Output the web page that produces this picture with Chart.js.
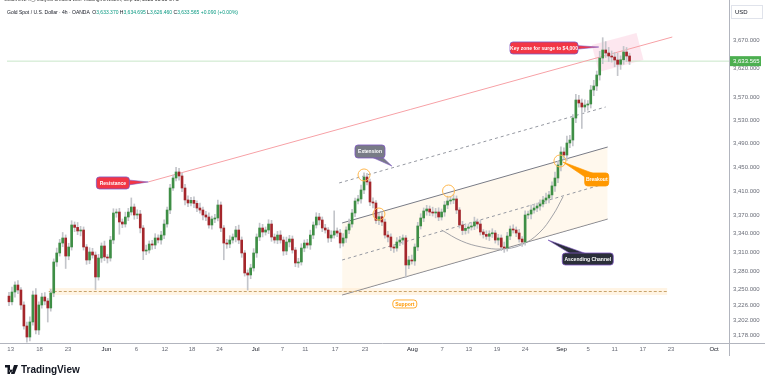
<!DOCTYPE html>
<html>
<head>
<meta charset="utf-8">
<script src="https://cdn.jsdelivr.net/npm/chart.js@4.4.1/dist/chart.umd.min.js"></script>
<style>
  body { margin: 0; background: #fff; overflow: hidden; }
  #wrap { position: relative; width: 768px; height: 376px; font-family: "Liberation Sans", Arial, sans-serif; }
  canvas { position: absolute; left: 0; top: 0; }
  .small { position: absolute; white-space: nowrap; transform-origin: 0 0; transform: scale(0.5); font-size: 10px; }
  #credit { left: 4px; top: -4px; color: #333; }
  #legend { left: 7px; top: 9px; color: #131722; }
  #legend .v { color: #089981; }
  #logo { position: absolute; left: 5px; top: 363px; height: 12px; display: flex; align-items: center; gap: 3px;
          font: bold 10px "Liberation Sans", Arial, sans-serif; color: #131722; }
</style>
</head>
<body>
<div id="wrap">
  <canvas id="chart" width="768" height="376"></canvas>
  <div id="credit" class="small">GoldViewFX_Analysis created with TradingView.com, Sep 15, 2025 01:31 UTC</div>
  <div id="legend" class="small">Gold Spot / U.S. Dollar · 4h · OANDA &nbsp;O<span class="v">3,633.370</span> H<span class="v">3,634.695</span> L<span class="v">3,626.460</span> C<span class="v">3,633.565</span> <span class="v">+0.090 (+0.00%)</span></div>
  <div id="logo">
    <svg width="13" height="9" viewBox="0 0 13 9"><path d="M0 0h5v9H2.5V2.5H0z M6 4.5a1.5 1.5 0 1 0 0.01 0z M9 0h4l-3.5 9H6z" fill="#131722"/></svg>
    <span>TradingView</span>
  </div>
</div>
<script>
// 4h candles, one slot each (close prices)
const closes = [
  3231, 3246.5, 3257.6, 3249.7, 3226, 3193.1, 3176, 3199.4, 3241.8, 3186.9,
  3226, 3238.6, 3232.3, 3221.3, 3245, 3294.4, 3308.9, 3325, 3333.2, 3304,
  3318.6, 3354.4, 3350.5, 3344.6, 3346.2, 3318.6, 3297.6, 3310.5, 3305.6, 3270.4,
  3300.8, 3320.2, 3302.4, 3300.8, 3329.9, 3374.1, 3375.7, 3359.3, 3356, 3367.5,
  3375.7, 3384, 3370.8, 3372.4, 3349.5, 3312.1, 3313.7, 3323.4, 3321.8, 3333.2,
  3330, 3338, 3356, 3379, 3415.5, 3432.2, 3442.3, 3435.6, 3415.5, 3395.6,
  3390.6, 3395, 3390, 3382.3, 3379, 3370.8, 3367.5, 3354.4, 3364.2, 3365.9,
  3387.3, 3349.5, 3325, 3323.4, 3329.9, 3334.8, 3346.2, 3329.9, 3308.9, 3276.8,
  3273.6, 3284.8, 3308.9, 3334.8, 3349.5, 3342.9, 3346.2, 3356, 3334.8, 3329.9,
  3338, 3329.9, 3312.1, 3326.7, 3331.5, 3313.7, 3292.8, 3294.4, 3316.9, 3325,
  3321.8, 3338, 3354.4, 3367.5, 3362.6, 3349.5, 3346.2, 3333.2, 3338, 3344.6,
  3341.3, 3325, 3333.2, 3346.2, 3356, 3374.1, 3393.9, 3397.3, 3412.2, 3433.9,
  3425.6, 3392.3, 3390.6, 3362, 3368, 3359.3, 3338, 3334.8, 3318.6, 3316.9,
  3326.7, 3329.9, 3333.2, 3289.6, 3297.6, 3296, 3318.6, 3352.8, 3365.9, 3377.4,
  3380.7, 3375.7, 3374.1, 3375.7, 3367.5, 3375.7, 3387.3, 3393.9, 3395.6, 3397.3,
  3379, 3354.4, 3345.5, 3349, 3351.1, 3352.8, 3359.3, 3356, 3343, 3339,
  3336, 3340, 3341.3, 3329.9, 3333.2, 3318.6, 3316.9, 3336.4, 3347.8, 3346.2,
  3341.3, 3331.5, 3326.7, 3370.8, 3372.4, 3379, 3382.3, 3385.6, 3389, 3395.6,
  3398.9, 3404, 3419, 3432.2, 3454.1, 3476, 3470.9, 3491.3, 3496.4, 3534.1,
  3565.3, 3560.1, 3553.2, 3556.6, 3558.4, 3582.8, 3589.8, 3609.1, 3639.1, 3653.4,
  3648, 3642.7, 3640.9, 3635.6, 3628, 3636, 3649.8, 3642.7, 3633.565
];
const firstOpen = 3240;
// wick length above / below the body, in dollars
const wickHigh = [
  6,8,5,7,4,5,6,8,6,10, 5,6,7,4,6,5,8,6,9,5, 6,7,5,8,6,5,4,7,6,5, 6,5,8,4,6,7,5,6,5,8,
  6,15,5,7,6,4,8,5,6,7, 5,6,7,5,6,5,8,6,5,6, 7,5,6,4,8,5,6,7,5,6, 8,5,4,6,7,5,6,8,5,4,
  5,6,7,5,8,6,5,7,6,5, 6,7,5,8,6,5,4,6,7,5, 6,8,5,7,6,5,6,4,7,33, 5,6,7,5,8,6,5,6,8,7,
  6,5,7,4,6,8,5,6,5,4, 7,6,5,4,6,8,5,6,7,5, 6,5,8,6,7,5,6,8,5,7, 5,4,6,7,5,6,8,5,6,4,
  6,5,7,4,6,5,8,6,5,7, 5,6,4,7,5,8,6,5,7,6, 8,6,7,10,6,9,7,12,8,6, 10,8,7,9,6,8,10,7,12,22,
  15,10,9,8,12,7,10,8,5
];
const wickLow = [
  6,5,8,6,7,5,8,6,5,6, 7,5,6,22,5,6,7,5,6,20, 6,5,7,6,8,5,7,6,5,20, 5,7,6,8,5,6,7,20,6,5,
  6,5,7,6,8,14,6,5,7,6, 5,7,6,5,6,4,5,7,6,8, 6,5,7,6,5,8,6,5,7,6, 5,6,27,7,6,5,8,6,7,5,
  24,6,5,7,6,8,5,6,7,5, 6,5,7,6,8,5,6,7,5,6, 5,7,6,5,8,6,5,7,6,5, 6,8,5,7,6,5,6,5,7,6,
  5,6,8,5,7,6,5,8,6,7, 5,6,7,20,6,5,7,6,5,6, 7,6,5,8,6,5,7,6,5,6, 6,5,7,6,8,5,6,7,5,6,
  5,7,6,5,8,6,7,5,6,5, 6,5,7,5,6,8,5,6,7,5, 6,8,7,9,8,10,7,9,8,10, 8,7,37,8,9,7,10,8,9,10,
  8,10,9,12,20,9,8,10,6
];

const xTickIdx = [0.57, 10.23, 19.77, 32.67, 42.67, 52.23, 61.33, 70.57, 82.67, 91.67, 99.33, 109.33,
  119.33, 135.23, 145.23, 154.1, 163.57, 173, 185.23, 194.1, 203, 212.43, 221.9, 236.33];
const xTickLabels = ['13','18','23','Jun','6','12','18','24','Jul','7','11','17',
  '23','Aug','7','13','19','24','Sep','5','11','17','23','Oct'];
const monthNames = ['Jun','Jul','Aug','Sep','Oct'];
const yTicks = [3670, 3620, 3570, 3530, 3490, 3450, 3410, 3370, 3340, 3310, 3280, 3250, 3226, 3202, 3178];
const lastPrice = 3633.565;

// drawings (slot index, price)
const resistanceLine = [[46.67, 3425.6], [222.33, 3676.6]];
const supportLevel = 3247.3, supportBand = [3241.8, 3252.9], supportSpan = [13.33, 220.67];
const channelUpper = [[111.67, 3357.7], [200.67, 3484.5]];
const channelMid = [[111.67, 3297.6], [200.67, 3423.9]];
const channelLower = [[111.67, 3241.8], [200.67, 3364.2]];
const extensionLine = [[110.67, 3423.9], [200, 3553.2]];
const touchPoints = [[119, 3437.3], [124, 3372.4], [147.33, 3410.5], [184.67, 3460.8]];
const roundBottom = [[145, 3346.2], [151.67, 3328.3], [158.33, 3318.6], [165, 3315.3], [171.67, 3321.8],
  [177.67, 3341.3], [182.33, 3370.8], [185.67, 3400.6]];
const keyZone = [[197.67, 3614.4], [212.67, 3635.6], [210.33, 3683.8], [195.33, 3662.3], [197.67, 3614.4]];

const callouts = [
  { text: 'Resistance', at: [34.83, 3423.9], w: 33, h: 12, tip: [46.67, 3425.6], bg: '#f23645', fg: '#fff', bd: '#7e57c2' },
  { text: 'Extension', at: [121, 3476.9], w: 30, h: 13, tip: [128.33, 3452.3], bg: '#787b86', fg: '#fff', bd: '#7e57c2' },
  { text: 'Key zone for surge to $4,000', at: [179.33, 3657], w: 68, h: 12, tip: [197.67, 3658.7], bg: '#f23645', fg: '#fff', bd: '#7e57c2' },
  { text: 'Breakout', at: [197, 3429.7], w: 24, h: 13, tip: [185.67, 3459.1], bg: '#ff9800', fg: '#fff', bd: '#ff9800' },
  { text: 'Ascending Channel', at: [194, 3299.2], w: 51, h: 12, tip: [180.67, 3329.9], bg: '#2a2e39', fg: '#fff', bd: '#7e57c2' },
  { text: 'Support', at: [132.67, 3227.6], w: 24, h: 8, tip: null, bg: '#fff', fg: '#ff9800', bd: '#ff9800' }
];

const opens = [firstOpen, ...closes.slice(0, -1)];
const idx = closes.map((c, i) => i);
const pts = arr => arr.map(p => ({ x: p[0], y: p[1] }));

const calloutPlugin = {
  id: 'callouts',
  afterDatasetsDraw(chart) {
    const { ctx, scales: { x, y } } = chart;
    ctx.save();
    callouts.forEach(c => {
      const cx = x.getPixelForValue(c.at[0]), cy = y.getPixelForValue(c.at[1]);
      if (c.tip) {
        const tx = x.getPixelForValue(c.tip[0]), ty = y.getPixelForValue(c.tip[1]);
        const dx = tx - cx, dy = ty - cy, len = Math.hypot(dx, dy);
        const nx = -dy / len * 4.5, ny = dx / len * 4.5;
        ctx.beginPath();
        ctx.moveTo(cx + nx, cy + ny);
        ctx.lineTo(tx, ty);
        ctx.lineTo(cx - nx, cy - ny);
        ctx.closePath();
        ctx.fillStyle = c.bg; ctx.fill();
        ctx.strokeStyle = c.bd; ctx.lineWidth = 0.6; ctx.stroke();
      }
      ctx.beginPath();
      ctx.roundRect(cx - c.w / 2, cy - c.h / 2, c.w, c.h, 3);
      ctx.fillStyle = c.bg; ctx.fill();
      ctx.strokeStyle = c.bd; ctx.lineWidth = 0.8; ctx.stroke();
      ctx.fillStyle = c.fg;
      ctx.font = 'bold 5px "Liberation Sans", Arial, sans-serif';
      ctx.textAlign = 'center'; ctx.textBaseline = 'middle';
      ctx.fillText(c.text, cx, cy + 0.5);
    });
    ctx.restore();
  }
};

const framePlugin = {
  id: 'frame',
  afterDraw(chart) {
    const { ctx, chartArea: a, scales: { y } } = chart;
    ctx.save();
    ctx.strokeStyle = '#b2b5be'; ctx.lineWidth = 1;
    ctx.beginPath();
    ctx.moveTo(0, a.bottom + 0.5); ctx.lineTo(765, a.bottom + 0.5);
    ctx.moveTo(a.right + 0.5, 0); ctx.lineTo(a.right + 0.5, a.bottom + 13);
    ctx.stroke();
    // USD box
    ctx.strokeStyle = '#e0e3eb';
    ctx.strokeRect(731.5, 5.5, 31, 13);
    ctx.fillStyle = '#131722';
    ctx.font = '6px "Liberation Sans", Arial, sans-serif';
    ctx.textAlign = 'left'; ctx.textBaseline = 'middle';
    ctx.fillText('USD', 735, 12);
    // last price tag
    const py = y.getPixelForValue(lastPrice);
    ctx.fillStyle = '#4caf50';
    ctx.fillRect(730, py - 5, 31, 10);
    ctx.fillStyle = '#fff';
    ctx.fillText(lastPrice.toLocaleString('en-US', { minimumFractionDigits: 3 }), 733, py + 0.5);
    ctx.restore();
  }
};

new Chart(document.getElementById('chart'), {
  type: 'bar',
  data: {
    datasets: [
      { type: 'scatter', data: pts(touchPoints), pointRadius: 6, pointBackgroundColor: 'rgba(0,0,0,0)',
        pointBorderColor: '#ffb74d', pointBorderWidth: 1, order: 1 },
      { label: 'body', data: idx.map(i => ({ x: i, y: [opens[i], closes[i]] })),
        backgroundColor: idx.map(i => closes[i] >= opens[i] ? '#3e8e45' : '#a4262b'),
        barThickness: 2, minBarLength: 1, grouped: false, order: 2 },
      { label: 'wick', data: idx.map(i => ({ x: i, y: [Math.min(opens[i], closes[i]) - wickLow[i], Math.max(opens[i], closes[i]) + wickHigh[i]] })),
        backgroundColor: '#c3c5ca', barThickness: 1, grouped: false, order: 3 },
      { type: 'line', data: pts(resistanceLine), borderColor: '#f7a1a6', borderWidth: 1, pointRadius: 0, order: 4 },
      { type: 'line', data: pts(extensionLine), borderColor: '#9598a1', borderWidth: 1, borderDash: [3, 3], pointRadius: 0, order: 4 },
      { type: 'line', data: pts(channelMid), borderColor: '#9598a1', borderWidth: 1, borderDash: [3, 3], pointRadius: 0, order: 4 },
      { type: 'line', data: pts(roundBottom), borderColor: '#8a8d96', borderWidth: 0.8, tension: 0.4, pointRadius: 0, order: 4 },
      { type: 'line', data: [{ x: supportSpan[0], y: supportLevel }, { x: supportSpan[1], y: supportLevel }],
        borderColor: '#c9a46b', borderWidth: 1, borderDash: [3, 2], pointRadius: 0, order: 4 },
      { type: 'line', data: [{ x: -1, y: lastPrice }, { x: 242, y: lastPrice }], borderColor: '#c8e6c9', borderWidth: 1, pointRadius: 0, order: 4 },
      // index 9 / 10 : channel upper + lower with fill
      { type: 'line', data: pts(channelUpper), borderColor: '#787b86', borderWidth: 1, pointRadius: 0,
        fill: { target: 10 }, backgroundColor: 'rgba(255,236,204,0.35)', order: 6 },
      { type: 'line', data: pts(channelLower), borderColor: '#787b86', borderWidth: 1, pointRadius: 0, order: 6 },
      // index 11 / 12 : support band
      { type: 'line', data: [{ x: supportSpan[0], y: supportBand[1] }, { x: supportSpan[1], y: supportBand[1] }],
        borderWidth: 0, pointRadius: 0, fill: { target: 12 }, backgroundColor: 'rgba(255,224,178,0.35)', order: 7 },
      { type: 'line', data: [{ x: supportSpan[0], y: supportBand[0] }, { x: supportSpan[1], y: supportBand[0] }],
        borderWidth: 0, pointRadius: 0, order: 7 },
      { type: 'line', data: pts(keyZone), borderWidth: 0, pointRadius: 0, fill: 'shape',
        backgroundColor: 'rgba(248,187,208,0.35)', order: 8 }
    ]
  },
  options: {
    responsive: false,
    animation: false,
    events: [],
    layout: { padding: { left: 3, top: 20, bottom: 20, right: 0 } },
    plugins: { legend: { display: false }, tooltip: { enabled: false } },
    scales: {
      x: {
        type: 'linear', min: -0.6667, max: 241.3333, offset: false,
        grid: { display: false, drawTicks: false }, border: { display: false },
        afterBuildTicks: s => { s.ticks = xTickIdx.map(v => ({ value: v })); },
        afterFit: s => { s.height = 13; },
        ticks: {
          autoSkip: false, maxRotation: 0, padding: 3,
          callback: (v, i) => xTickLabels[i],
          color: c => monthNames.includes(c.tick && c.tick.label) ? '#131722' : '#6a6d78',
          font: { family: '"Liberation Sans", Arial, sans-serif', size: 6 }
        }
      },
      y: {
        type: 'logarithmic', position: 'right', min: 3166.73, max: 3707.25,
        grid: { display: false, drawTicks: false }, border: { display: false },
        afterBuildTicks: s => { s.ticks = yTicks.map(v => ({ value: v })); },
        afterFit: s => { s.width = 39; },
        ticks: {
          autoSkip: false, padding: 4, color: '#6a6d78',
          callback: v => v.toLocaleString('en-US', { minimumFractionDigits: 3 }),
          font: { family: '"Liberation Sans", Arial, sans-serif', size: 6 }
        }
      }
    }
  },
  plugins: [calloutPlugin, framePlugin]
});
</script>
</body>
</html>
